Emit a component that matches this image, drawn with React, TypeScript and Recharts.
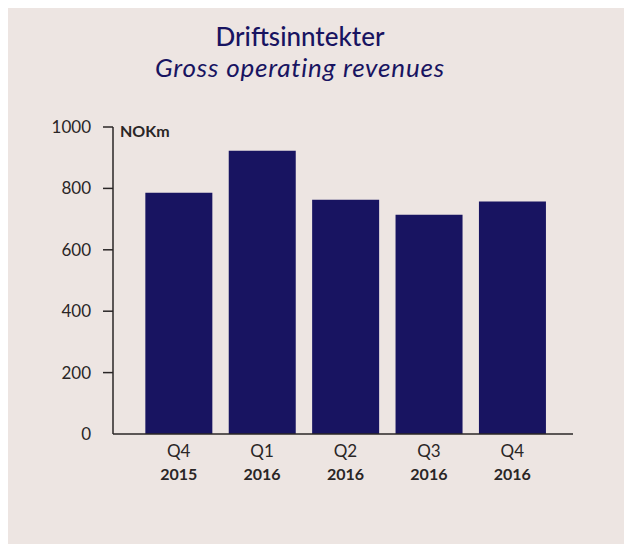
import { Bar, BarChart, XAxis, YAxis } from "recharts";

const quarters = ["Q4", "Q1", "Q2", "Q3", "Q4"];
const years = ["2015", "2016", "2016", "2016", "2016"];
const revenues = [786, 923, 763, 714, 757];
const yTicks = [0, 200, 400, 600, 800, 1000];

const data = quarters.map((q, i) => ({
  period: `${q} ${years[i]}`,
  quarter: q,
  year: years[i],
  revenue: revenues[i],
}));

const INK = "#2a2626";
const NAVY = "#181461";
const FONT = "Lato, 'Noto Sans', sans-serif";
const TICK_MARGIN = 12;
const TICK_SIZE = 10;

interface TickProps {
  x?: number;
  y?: number;
  index?: number;
  payload?: { value: number };
}

function PeriodTick({ x = 0, y = 0, index = 0 }: TickProps) {
  return (
    <g>
      <text x={x} y={y + 23} textAnchor="middle" fill={INK} fontSize={17} fontFamily={FONT}>
        {quarters[index]}
      </text>
      <text
        x={x}
        y={y + 46}
        textAnchor="middle"
        fill={INK}
        fontSize={16}
        fontWeight={700}
        fontFamily={FONT}
      >
        {years[index]}
      </text>
    </g>
  );
}

// tick line drawn here so the zero tick can be left out, like the original
function ValueTick({ x = 0, y = 0, payload }: TickProps) {
  const v = payload ? payload.value : 0;
  return (
    <g>
      {v !== 0 && (
        <line
          x1={x + TICK_MARGIN}
          x2={x + TICK_MARGIN + TICK_SIZE}
          y1={y}
          y2={y}
          stroke={INK}
          strokeWidth={1.5}
        />
      )}
      <text x={x} y={y} dy={6} textAnchor="end" fill={INK} fontSize={17} fontFamily={FONT}>
        {v}
      </text>
    </g>
  );
}

export default function App() {
  return (
    <div
      style={{
        position: "relative",
        width: 624,
        height: 536,
        background: "#ede5e2",
        fontFamily: FONT,
      }}
    >
      <div
        style={{
          position: "absolute",
          top: 13,
          left: 0,
          width: 584,
          textAlign: "center",
          color: NAVY,
          fontSize: 26,
          lineHeight: "31px",
        }}
      >
        <div style={{ fontWeight: 500 }}>Driftsinntekter</div>
        <div style={{ fontStyle: "italic", letterSpacing: 0.8 }}>Gross operating revenues</div>
      </div>
      <div
        style={{
          position: "absolute",
          top: 113,
          left: 112,
          fontSize: 16,
          lineHeight: "20px",
          fontWeight: 700,
          color: INK,
        }}
      >
        NOKm
      </div>
      <BarChart
        width={624}
        height={536}
        data={data}
        margin={{ top: 119, right: 59, left: 0, bottom: 70 }}
        barCategoryGap="10%"
      >
        <XAxis
          dataKey="period"
          height={40}
          padding={{ left: 24, right: 19 }}
          axisLine={{ stroke: INK, strokeWidth: 1.5 }}
          tickLine={false}
          tickSize={0}
          tickMargin={0}
          tick={<PeriodTick />}
          interval={0}
        />
        <YAxis
          width={105}
          domain={[0, 1000]}
          ticks={yTicks}
          axisLine={{ stroke: INK, strokeWidth: 1.5 }}
          tickLine={false}
          tickSize={TICK_SIZE}
          tickMargin={TICK_MARGIN}
          tick={<ValueTick />}
        />
        <Bar dataKey="revenue" fill={NAVY} isAnimationActive={false} />
      </BarChart>
    </div>
  );
}
